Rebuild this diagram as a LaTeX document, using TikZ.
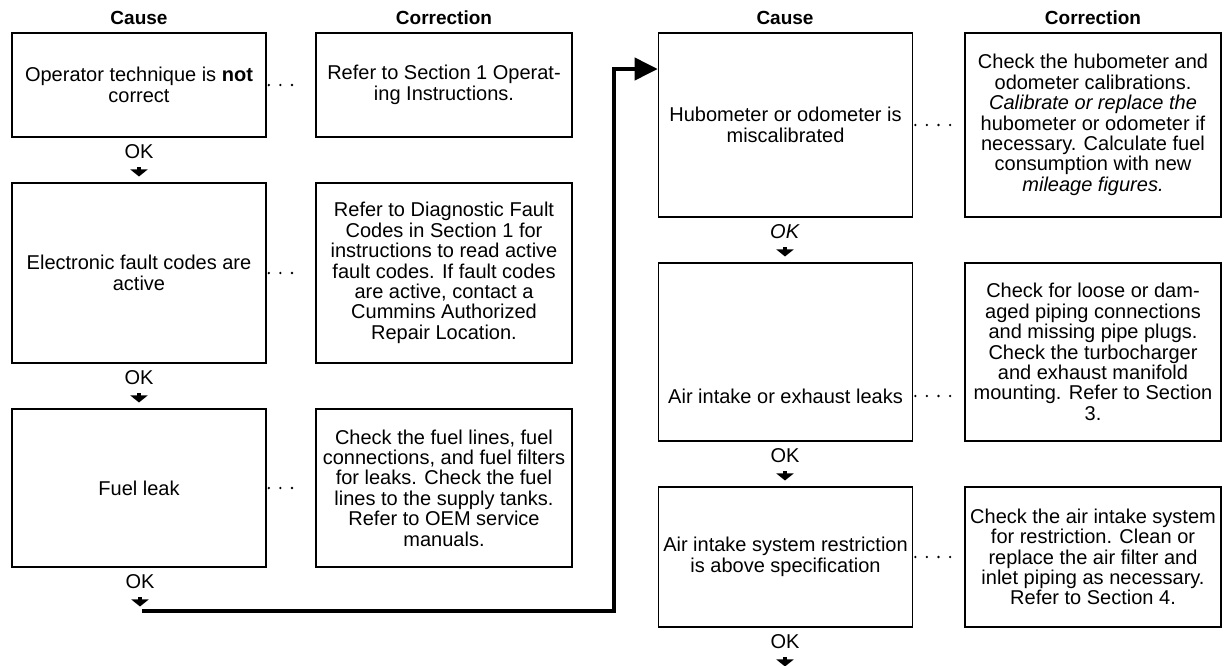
\documentclass[tikz,border=0pt]{standalone}
\usepackage{fontspec}
\setmainfont{Liberation Sans}
\usetikzlibrary{arrows.meta,positioning}

\tikzset{
 causebox/.style={draw,line width=0.8pt,minimum width=127pt,align=center,
   inner xsep=1pt,inner ysep=2pt,font=\fontsize{10}{10.2}\selectfont},
 fixbox/.style={causebox,minimum width=128pt},
 plain/.style={align=center,inner sep=1pt,font=\fontsize{10}{10.2}\selectfont},
 colhead/.style={font=\fontsize{9.5}{10}\selectfont\bfseries},
 oklabel/.style={font=\fontsize{10}{10}\selectfont,inner sep=1pt},
 okarrow/.style={-{Triangle[length=3.5pt,width=8.5pt]},line width=2pt},
 dots/.style={line width=1.3pt,line cap=round,dash pattern=on 0pt off 5.8pt},
 flow/.style={line width=2pt,-{Triangle[length=11.5pt,width=11pt]}},
}

\begin{document}
\begin{tikzpicture}[x=0.5pt,y=-0.5pt]
    \useasboundingbox (0,0) rectangle (1224,665);

    % column heads
    \node[colhead] (head1) at (139,18) {Cause};
    \node[colhead] (head2) at (444,18) {Correction};
    \node[colhead] (head3) at (785,18) {Cause};
    \node[colhead] (head4) at (1093,18) {Correction};

    % left half
    \node[causebox,minimum height=52pt] (cause1) at (139,85)
        {Operator technique is \textbf{not}\\correct};
    \node[fixbox,minimum height=52pt] (fix1) at (444,85)
        {Refer to Section 1 Operat-\\ing Instructions.};
    \node[causebox,minimum height=90pt] (cause2) at (139,273)
        {Electronic fault codes are\\active};
    \node[fixbox,minimum height=90pt] (fix2) at (444,273)
        {Refer to Diagnostic Fault\\Codes in Section 1 for\\instructions to read active\\fault codes. If fault codes\\are active, contact a\\Cummins Authorized\\Repair Location.};
    \node[causebox,minimum height=79pt] (cause3) at (139,488)
        {Fuel leak};
    \node[fixbox,minimum height=79pt] (fix3) at (444,488)
        {Check the fuel lines, fuel\\connections, and fuel filters\\for leaks. Check the fuel\\lines to the supply tanks.\\Refer to OEM service\\manuals.};

    % right half
    \node[causebox,minimum height=92pt] (cause4) at (785.5,125)
        {Hubometer or odometer is\\miscalibrated};
    \node[fixbox,minimum height=92pt] (fix4) at (1093,125)
        {Check the hubometer and\\odometer calibrations.\\\textit{Calibrate or replace the}\\hubometer or odometer if\\necessary. Calculate fuel\\consumption with new\\\textit{mileage figures.}};
    \node[causebox,minimum height=89pt] (cause5) at (785.5,352) {};
    \node[plain] (cause5txt) at (785.5,396) {Air intake or exhaust leaks};
    \node[fixbox,minimum height=89pt] (fix5) at (1093,352)
        {Check for loose or dam-\\aged piping connections\\and missing pipe plugs.\\Check the turbocharger\\and exhaust manifold\\mounting. Refer to Section\\3.};
    \node[causebox,minimum height=70pt] (cause6) at (785.5,557)
        {Air intake system restriction\\is above specification};
    \node[fixbox,minimum height=70pt] (fix6) at (1093,557)
        {Check the air intake system\\for restriction. Clean or\\replace the air filter and\\inlet piping as necessary.\\Refer to Section 4.};

    % dotted leaders
    \draw[dots] ([xshift=1pt]cause1.east) -- ([xshift=-6pt]fix1.west);
    \draw[dots] ([xshift=1pt]cause2.east) -- ([xshift=-6pt]fix2.west);
    \draw[dots] ([xshift=1pt]cause3.east) -- ([xshift=-6pt]fix3.west);
    \draw[dots] ([xshift=1pt]cause4.east) -- ([xshift=-6pt]fix4.west);
    \draw[dots] ([xshift=1pt]cause5txt -| cause5.east) -- ([xshift=-6pt]cause5txt -| fix5.west);
    \draw[dots] ([xshift=1pt]cause6.east) -- ([xshift=-6pt]fix6.west);

    % OK steps
    \node[oklabel] (ok1) at (139,152) {OK};
    \node[oklabel] (ok2) at (139,378) {OK};
    \node[oklabel] (ok3) at (140,582) {OK};
    \node[oklabel] (ok4) at (785,232) {\textit{OK}};
    \node[oklabel] (ok5) at (785,456) {OK};
    \node[oklabel] (ok6) at (785,642) {OK};
    \draw[okarrow] ([yshift=-3pt]ok1.south) -- ++(0,9);
    \draw[okarrow] ([yshift=-3pt]ok2.south) -- ++(0,9);
    \draw[okarrow] ([yshift=-3pt]ok3.south) -- ++(0,9);
    \draw[okarrow] ([yshift=-3pt]ok4.south) -- ++(0,9);
    \draw[okarrow] ([yshift=-3pt]ok5.south) -- ++(0,9);
    \draw[okarrow] ([yshift=-3pt]ok6.south) -- ++(0,9);

    % jump to the right half
    \coordinate (feed) at (142,611);
    \coordinate (riser) at (614,69);
    \draw[flow] (feed) -| (riser) -- (riser -| cause4.west);
\end{tikzpicture}
\end{document}
